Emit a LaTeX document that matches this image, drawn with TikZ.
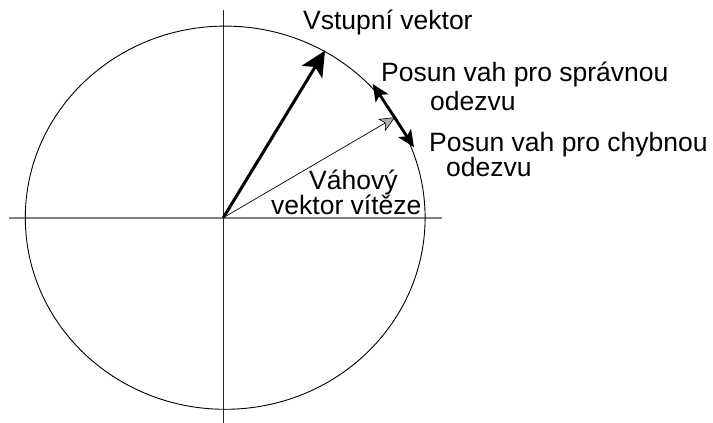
\documentclass[tikz,border=0pt]{standalone}
\usepackage{fontspec}
\setmainfont{Liberation Sans}
\usetikzlibrary{arrows.meta}
\begin{document}
\begin{tikzpicture}[x=1pt,y=-1pt,
  lbl/.style={anchor=base west,inner sep=0pt,font=\fontsize{26.5}{28}\selectfont},
  bigvec/.style={line width=3pt,-{Stealth[length=25pt,width=24pt,inset=6pt]}},
  shiftvec/.style={line width=2.8pt,{Stealth[length=17pt,width=15pt,inset=4pt]}-{Stealth[length=17pt,width=15pt,inset=4pt]}},
  weightvec/.style={line width=0.7pt,-{Stealth[length=15.5pt,width=14pt,inset=4pt,fill=black!30,line width=0.6pt]}}]
\useasboundingbox (0,0) rectangle (713,423);
% axes
\coordinate (hl) at (9.3,217.7);
\coordinate (hr) at (441.7,217.7);
\coordinate (vt) at (223.3,10);
\coordinate (vb) at (223.3,423);
\draw[black!50,line width=2pt] (hl) -- (hr);
\draw[black!85,line width=1.2pt] (vt) -- (vb);
% circle
\coordinate (C) at (225.2,217.7);
\draw[line width=0.9pt] (C) ellipse [x radius=199.9pt, y radius=191.6pt];
% vectors
\coordinate (O) at (223.3,217.7);
\coordinate (inp) at (325,50.7);
\coordinate (sa) at (372.7,84);
\coordinate (sb) at (414,147.3);
\coordinate (win) at (395,117.3);
\draw[bigvec] (O) -- (inp);
\draw[weightvec] (O) -- (win);
\draw[shiftvec] (sa) -- (sb);
% labels
\node[lbl] (t1) at (303,30) {Vstupní vektor};
\node[lbl] (t2) at (381,81) {Posun vah pro správnou};
\node[lbl] (t3) at (430,110) {odezvu};
\node[lbl] (t4) at (429,151) {Posun vah pro chybnou};
\node[lbl] (t5) at (446,176) {odezvu};
\node[lbl] (t6) at (309,189) {Váhový};
\node[lbl] (t7) at (271,214) {vektor vítěze};
\end{tikzpicture}
\end{document}
